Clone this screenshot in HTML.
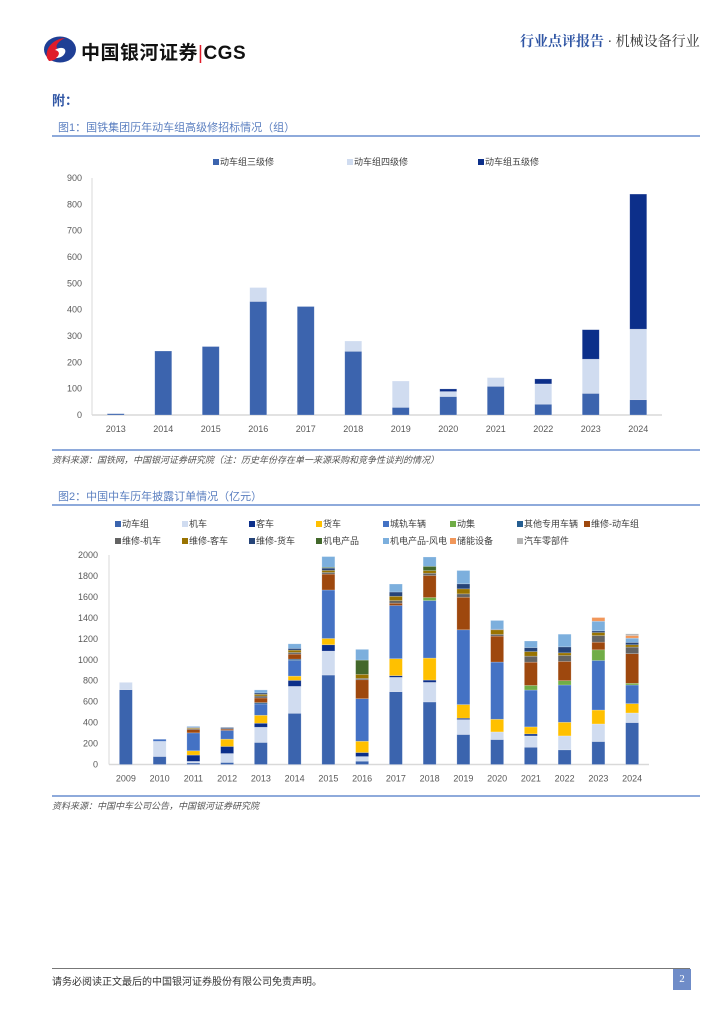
<!DOCTYPE html>
<html><head><meta charset="utf-8">
<style>
body{margin:0;background:#fff;}
#page{position:relative;width:724px;height:1024px;overflow:hidden;background:#fff;font-family:"Liberation Sans","Noto Sans CJK SC",sans-serif;}
.abs{position:absolute;white-space:nowrap;}
.title{font-size:11px;color:#5b7fc0;}
.src{font-size:9px;color:#555;font-style:italic;}
.rule{position:absolute;height:2px;background:#8eaadb;}
</style></head>
<body>
<div id="page">
  <svg class="abs" style="left:43px;top:36px" width="34" height="27" viewBox="0 0 34 27">
    <ellipse cx="17" cy="13.5" rx="16" ry="13" fill="#1f3f95"/>
    <path d="M4 22 C2 12 10 3 22 2 C14 6 11 11 16 14 C20 17 14 25 6 25 Z" fill="#e01c2a"/>
    <path d="M12 14 C18 10 24 12 22 17 C20 21 16 22 13 22 C17 19 17 15 12 14 Z" fill="#fff"/>
  </svg>
  <div class="abs" style="left:81px;top:38px;font-size:19px;font-weight:bold;color:#111;letter-spacing:0.5px">中国银河证券<span style="color:#e01c2a;font-weight:normal">|</span>CGS</div>
  <div class="abs" style="left:520px;top:31px;font-size:14px;font-family:'Liberation Serif','Noto Serif CJK SC',serif"><span style="color:#2f55a4;font-weight:bold">行业点评报告</span><span style="color:#333"> · 机械设备行业</span></div>
  <div class="abs" style="left:52px;top:90px;font-size:13px;font-weight:bold;color:#2f55a4">附：</div>

  <div class="abs title" style="left:58px;top:119px">图1：国铁集团历年动车组高级修招标情况（组）</div>
  <div class="rule" style="left:52px;top:135px;width:648px"></div>
  <svg id="c1" class="abs" style="left:0;top:140px" width="724" height="305"></svg>
  <div class="rule" style="left:52px;top:449px;width:648px"></div>
  <div class="abs src" style="left:52px;top:453px">资料来源：国铁网，中国银河证券研究院（注：历史年份存在单一来源采购和竞争性谈判的情况）</div>

  <div class="abs title" style="left:58px;top:488px">图2：中国中车历年披露订单情况（亿元）</div>
  <div class="rule" style="left:52px;top:504px;width:648px"></div>
  <svg id="c2" class="abs" style="left:0;top:508px" width="724" height="280"></svg>
  <div class="rule" style="left:52px;top:795px;width:648px"></div>
  <div class="abs src" style="left:52px;top:799px">资料来源：中国中车公司公告，中国银河证券研究院</div>

  <div class="abs" style="left:52px;top:968px;width:638px;height:1px;background:#777"></div>
  <div class="abs" style="left:52px;top:973px;font-size:10px;color:#333">请务必阅读正文最后的中国银河证券股份有限公司免责声明。</div>
  <div class="abs" style="left:673px;top:969px;width:18px;height:21px;background:#6f8cc8;color:#fff;font-size:11px;text-align:center;line-height:21px;font-family:'Liberation Serif',serif">2</div>
</div>
<script>
// ---- Chart 1 data ----
const c1Years = ['2013','2014','2015','2016','2017','2018','2019','2020','2021','2022','2023','2024'];
const c1Names = ['动车组三级修','动车组四级修','动车组五级修'];
const c1Level3 = [5,243,260,431,412,242,29,70,109,41,82,58];
const c1Level4 = [0,0,0,53,0,39,100,19,33,77,130,268];
const c1Level5 = [0,0,0,0,0,0,0,10,0,19,112,513];
const c1Ticks = [0,100,200,300,400,500,600,700,800,900];

// ---- Chart 2 data ----
const c2Years = ['2009','2010','2011','2012','2013','2014','2015','2016','2017','2018','2019','2020','2021','2022','2023','2024'];
const c2Names = ['动车组','机车','客车','货车','城轨车辆','动集','其他专用车辆','维修-动车组','维修-机车','维修-客车','维修-货车','机电产品','机电产品-风电','储能设备','汽车零部件'];
const sEMU   = [714,76,15,19,210,489,854,32,695,597,286,238,165,140,219,400];
const sLoco  = [70,145,15,86,146,257,229,44,137,187,143,73,108,133,168,92];
const sCoach = [0,0,60,67,38,57,60,38,16,22,13,0,19,0,0,0];
const sFreight=[0,0,41,70,76,41,60,108,162,210,130,121,67,130,133,89];
const sMetro = [0,20,171,83,108,149,463,406,508,549,714,546,352,356,473,178];
const sDJ    = [0,0,0,0,0,0,0,0,0,29,0,0,44,41,102,16];
const sSpec  = [0,0,0,0,13,13,0,0,0,0,0,0,0,0,0,0];
const sMEMU  = [0,0,32,13,44,48,152,181,22,210,311,248,222,184,73,283];
const sMLoco = [0,0,8,5,19,16,16,13,25,22,32,16,57,57,63,63];
const sMCoach= [0,0,8,0,16,22,19,38,41,25,48,44,44,25,29,22];
const sMFrt  = [0,0,6,10,13,16,22,0,41,0,48,6,38,57,16,22];
const sElec  = [0,0,0,0,0,0,8,137,0,41,0,0,0,0,0,0];
const sWind  = [0,0,8,0,29,44,102,102,76,89,127,83,63,121,92,41];
const sStore = [0,0,0,0,0,0,0,0,0,0,0,0,0,0,35,25];
const sAuto  = [0,0,0,0,0,0,0,0,0,0,0,0,0,0,0,16];
const c2Ticks = [0,200,400,600,800,1000,1200,1400,1600,1800,2000];

const NS='http://www.w3.org/2000/svg';
function mk(parent,tag,attrs){const e=document.createElementNS(NS,tag);for(const k in attrs)e.setAttribute(k,attrs[k]);parent.appendChild(e);return e;}
const FONT='"Liberation Sans","Noto Sans CJK SC",sans-serif';

function stacked(svg,cfg){
  const {years,series,colors,names,ticks,yMax,x0,x1,yTop,yBot,barW,labelX,legend}=cfg;
  const step=(x1-x0)/years.length;
  const xs=i=>x0+step*(i+0.5);
  const ys=v=>yBot-(v/yMax)*(yBot-yTop);
  ticks.forEach(t=>{
    const tx=mk(svg,'text',{x:labelX,y:ys(t)+3,'text-anchor':'end','font-size':'9','fill':'#595959','font-family':FONT});
    tx.textContent=t;
    
    
  });
  const ax=mk(svg,'line',{x1:x0,y1:yTop,x2:x0,y2:yBot,stroke:'#d9d9d9','stroke-width':1});
  
  
  const bx=mk(svg,'line',{x1:x0,y1:yBot,x2:x1,y2:yBot,stroke:'#d9d9d9','stroke-width':1.5});
  
  
  years.forEach((y,i)=>{
    let acc=0;
    series.forEach((s,k)=>{
      const v=s[i]; if(!v) return;
      const yA=ys(acc), yB=ys(acc+v);
      const r=mk(svg,'rect',{x:xs(i)-barW/2,y:yB,width:barW,height:yA-yB,fill:colors[k],stroke:'#fff','stroke-opacity':0.35,'stroke-width':0.6});
      
      
      acc+=v;
    });
    const tx=mk(svg,'text',{x:xs(i),y:yBot+17,'text-anchor':'middle','font-size':'9','fill':'#595959','font-family':FONT});
    tx.textContent=y;
    
    
  });
  legend.forEach((p,k)=>{
    const r=mk(svg,'rect',{x:p[0],y:p[1]-6,width:6,height:6,fill:colors[k]});
    
    
    const t=mk(svg,'text',{x:p[0]+7,y:p[1],'font-size':'9','fill':'#404040','font-family':FONT});
    t.textContent=names[k];
    
    
  });
}

// chart1 (svg top = 140)
stacked(document.getElementById('c1'),{
  years:c1Years, series:[c1Level3,c1Level4,c1Level5], colors:['#3c64ae','#d0dcf0','#0c2f8a'], names:c1Names,
  ticks:c1Ticks, yMax:900, x0:92, x1:662, yTop:178-140, yBot:415-140, barW:17, labelX:82,
  legend:[[213,25],[347,25],[478,25]]
});
// chart2 (svg top = 508)
const lc=[115,182,249,316,383,450,517,584];
stacked(document.getElementById('c2'),{
  years:c2Years, series:[sEMU,sLoco,sCoach,sFreight,sMetro,sDJ,sSpec,sMEMU,sMLoco,sMCoach,sMFrt,sElec,sWind,sStore,sAuto],
  colors:['#3b64ae','#d0dcf0','#0c2f8a','#ffc000','#4472c4','#70ad47','#255e91','#9e480e','#636363','#997300','#264478','#43682b','#7cafdd','#f1975a','#b4b4b4'],
  names:c2Names, ticks:c2Ticks, yMax:2000, x0:109, x1:649, yTop:555-508, yBot:764.5-508, barW:13, labelX:98,
  legend:[[lc[0],19],[lc[1],19],[lc[2],19],[lc[3],19],[lc[4],19],[lc[5],19],[lc[6],19],[lc[7],19],
          [lc[0],36],[lc[1],36],[lc[2],36],[lc[3],36],[lc[4],36],[lc[5],36],[lc[6],36]]
});
</script>
</body></html>
